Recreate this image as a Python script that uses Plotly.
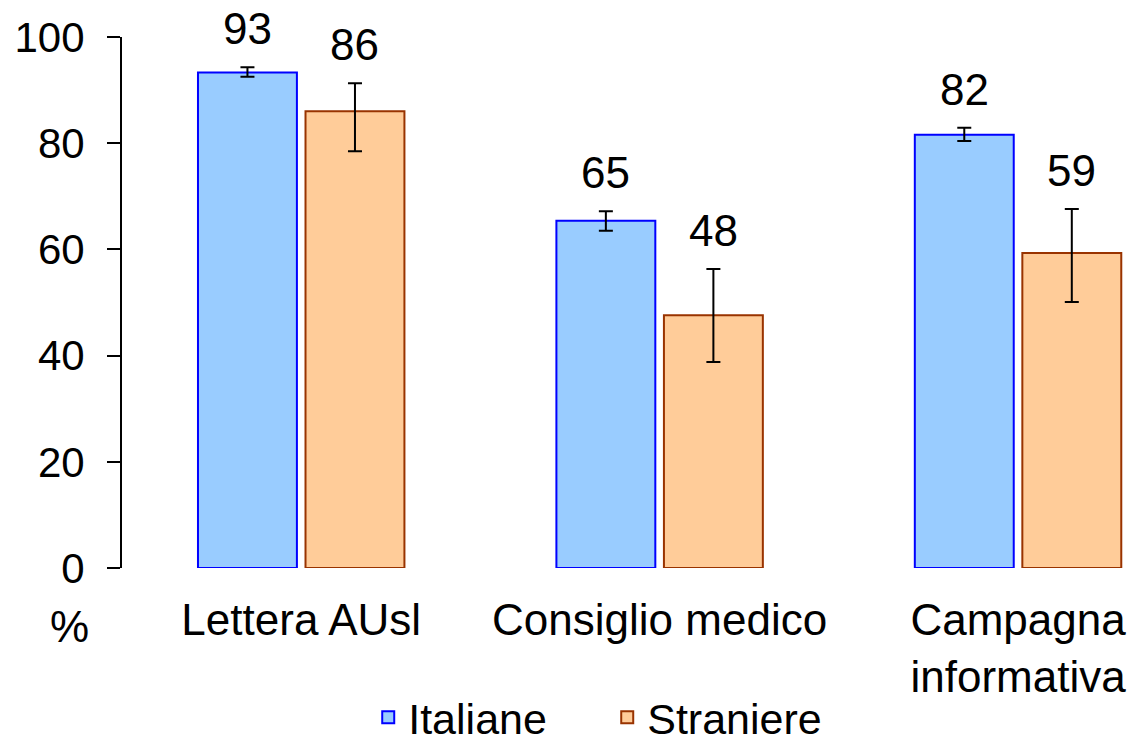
import plotly.graph_objects as go

categories = ["Lettera AUsl", "Consiglio medico", "Campagna<br>informativa"]
series_names = ["Italiane", "Straniere"]

italiane = [93.3, 65.4, 81.6]
italiane_low = [92.5, 63.5, 80.4]
italiane_high = [94.3, 67.2, 82.9]

straniere = [86.0, 47.6, 59.3]
straniere_low = [78.5, 38.8, 50.1]
straniere_high = [91.3, 56.3, 67.6]

y_ticks = [0, 20, 40, 60, 80, 100]

FONT = "Liberation Sans, Arial, sans-serif"
fills = ["#99CCFF", "#FFCC99"]
borders = ["#0000FF", "#993300"]


def err(vals, low, high):
    return dict(type="data", symmetric=False,
                array=[h - v for v, h in zip(vals, high)],
                arrayminus=[v - l for v, l in zip(vals, low)],
                color="black", thickness=2, width=7)


fig = go.Figure()
series = [(italiane, italiane_low, italiane_high),
          (straniere, straniere_low, straniere_high)]
for i, (vals, low, high) in enumerate(series):
    fig.add_trace(go.Bar(
        x=categories, y=vals, name=series_names[i],
        marker=dict(color=fills[i], line=dict(color=borders[i], width=2)),
        error_y=err(vals, low, high),
    ))

# value labels above the error bars
offsets = [-0.15, 0.15]
for i, (vals, low, high) in enumerate(series):
    for j, v in enumerate(vals):
        fig.add_annotation(x=j + offsets[i], y=high[j], text=f"{v:.0f}",
                           showarrow=False, yanchor="bottom", yshift=12,
                           font=dict(size=44, color="black", family=FONT))

fig.add_annotation(x=-0.031, xref="paper", y=0, yref="paper", text="%",
                   showarrow=False, xanchor="right", yanchor="top", yshift=-32,
                   font=dict(size=44, color="black", family=FONT))

fig.update_layout(
    width=1129, height=741,
    margin=dict(l=122, r=2, t=37, b=173, autoexpand=False),
    paper_bgcolor="white", plot_bgcolor="white",
    barmode="group", bargap=0.4, bargroupgap=0.08,
    font=dict(family=FONT, size=44, color="black"),
    showlegend=True,
    legend=dict(orientation="h", x=0.245, xanchor="left", y=-0.281,
                yanchor="middle", font=dict(size=43), itemwidth=30,
                entrywidth=194, tracegroupgap=0),
)
fig.update_xaxes(range=[-0.5, 2.304], showline=False, showgrid=False,
                 ticks="", tickfont=dict(size=44), ticklabelstandoff=22,
                 automargin=False)
fig.update_yaxes(range=[0, 100], tickvals=y_ticks, showline=True,
                 linecolor="black", linewidth=2, ticks="outside", ticklen=13,
                 tickwidth=2, tickcolor="black", showgrid=False, zeroline=False,
                 tickfont=dict(size=42), ticklabelstandoff=14, automargin=False)

# drop the default page margin so the figure fills the window exactly
fig.write_html("out.html", config={"displayModeBar": False},
               post_script="document.body.style.margin='0';"
                           "document.body.style.overflow='hidden';")
